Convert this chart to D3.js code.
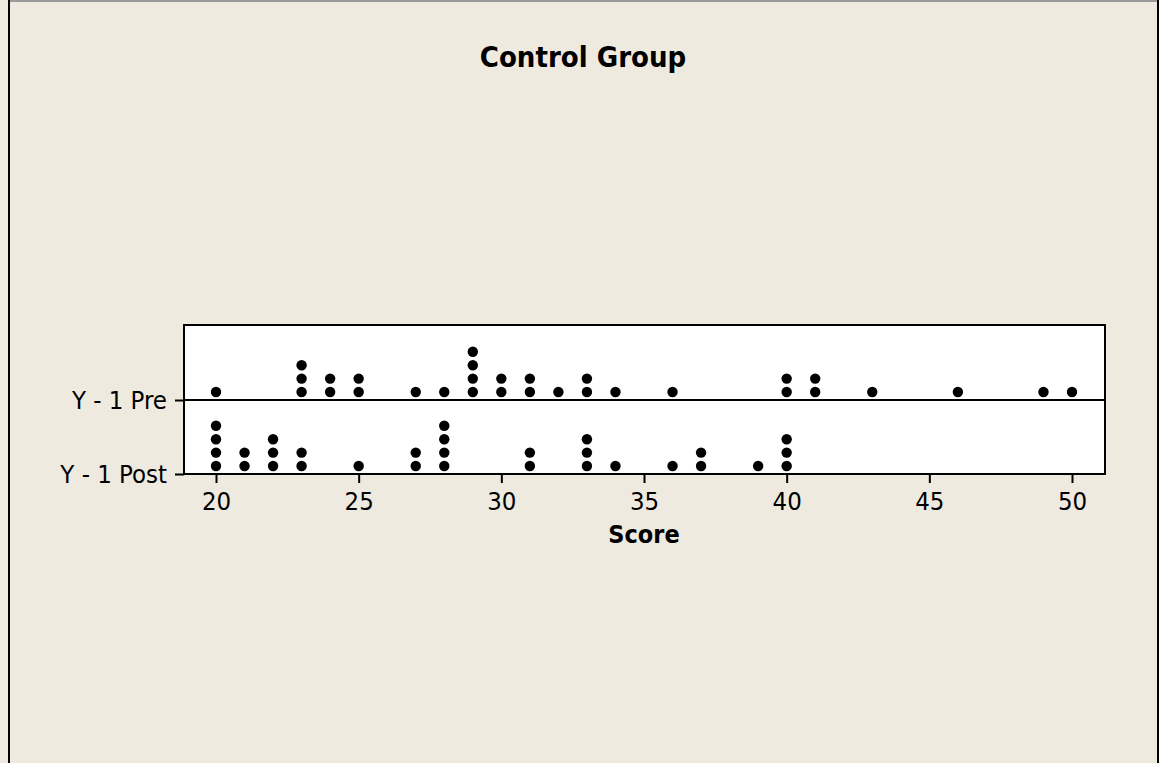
<!DOCTYPE html>
<html>
<head>
<meta charset="utf-8">
<script src="https://cdn.jsdelivr.net/npm/d3@7"></script>
<style>
  html, body { margin: 0; padding: 0; background: #EEEAE0; }
  svg { display: block; }
</style>
</head>
<body>
<svg id="chart" width="1159" height="763"></svg>
<script>
// Dot plot of scores, control group, pre and post
const groups = ["Y - 1 Pre", "Y - 1 Post"];
const preScores  = [20, 23, 23, 23, 24, 24, 25, 25, 27, 28, 29, 29, 29, 29, 30, 30, 31, 31, 32, 33, 33, 34, 36, 40, 40, 41, 41, 43, 46, 49, 50];
const postScores = [20, 20, 20, 20, 21, 21, 22, 22, 22, 23, 23, 25, 27, 27, 28, 28, 28, 28, 31, 31, 33, 33, 33, 34, 36, 37, 37, 39, 40, 40, 40];
const xTicks = [20, 25, 30, 35, 40, 45, 50];

const W = 1159, H = 763;
const box = { left: 184, right: 1105, top: 325, bottom: 474 };
const FONT = "'DejaVu Sans Condensed', 'DejaVu Sans', sans-serif";

const svg = d3.select("#chart");

// panel background and frame
svg.append("rect").attr("x", 0).attr("y", 0).attr("width", W).attr("height", H).attr("fill", "#EEEAE0");
svg.append("line").attr("x1", 9).attr("x2", 1158).attr("y1", 1).attr("y2", 1)
  .attr("stroke", "#9a9a9a").attr("stroke-width", 2);
svg.append("line").attr("x1", 9).attr("x2", 9).attr("y1", 0).attr("y2", H)
  .attr("stroke", "#000").attr("stroke-width", 2);
svg.append("line").attr("x1", 1158).attr("x2", 1158).attr("y1", 0).attr("y2", H)
  .attr("stroke", "#000").attr("stroke-width", 2);

// scales
const x = d3.scaleLinear().domain([20, 50]).range([216, 1072]);
const y = d3.scalePoint().domain(groups).range([400, box.bottom]);

// data region
svg.append("rect")
  .attr("x", box.left).attr("y", box.top)
  .attr("width", box.right - box.left).attr("height", box.bottom - box.top)
  .attr("fill", "#fff").attr("stroke", "#000").attr("stroke-width", 2);

// separator under the Pre row
svg.append("line")
  .attr("x1", box.left).attr("x2", box.right)
  .attr("y1", y(groups[0])).attr("y2", y(groups[0]))
  .attr("stroke", "#000").attr("stroke-width", 2);

// stacked dots
const step = 13.4, r = 5.2, first = 8;
function stack(values, group) {
  const counts = new Map();
  return values.map(v => {
    const k = counts.get(v) || 0;
    counts.set(v, k + 1);
    return { v, k, group };
  });
}
const dots = stack(preScores, groups[0]).concat(stack(postScores, groups[1]));
svg.append("g").selectAll("circle").data(dots).join("circle")
  .attr("cx", d => x(d.v))
  .attr("cy", d => y(d.group) - first - d.k * step)
  .attr("r", r)
  .attr("fill", "#000");

// x axis
const xAxis = svg.append("g")
  .attr("transform", `translate(0,${box.bottom})`)
  .call(d3.axisBottom(x).tickValues(xTicks).tickSize(9).tickPadding(9).tickFormat(d3.format("d")));
xAxis.select(".domain").remove();
xAxis.selectAll(".tick line").attr("stroke", "#000").attr("stroke-width", 2);
xAxis.selectAll(".tick text").attr("fill", "#000")
  .style("font-family", FONT).style("font-size", "25.5px");

// y axis
const yAxis = svg.append("g")
  .attr("transform", `translate(${box.left},0)`)
  .call(d3.axisLeft(y).tickSize(9).tickPadding(8));
yAxis.select(".domain").remove();
yAxis.selectAll(".tick line").attr("stroke", "#000").attr("stroke-width", 2);
yAxis.selectAll(".tick text").attr("fill", "#000")
  .style("font-family", FONT).style("font-size", "25.5px");

// titles
svg.append("text").attr("x", 583).attr("y", 67).attr("text-anchor", "middle")
  .style("font-family", FONT).style("font-size", "29px").style("font-weight", "bold")
  .text("Control Group");
svg.append("text").attr("x", 644).attr("y", 543).attr("text-anchor", "middle")
  .style("font-family", FONT).style("font-size", "25px").style("font-weight", "bold")
  .text("Score");
</script>
</body>
</html>
